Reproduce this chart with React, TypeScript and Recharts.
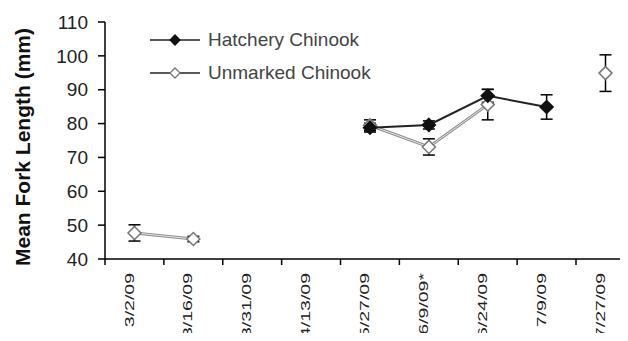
import { LineChart, Line, XAxis, YAxis, ErrorBar, Legend } from "recharts";

const dates = ["3/2/09", "3/16/09", "3/31/09", "4/13/09", "5/27/09", "6/9/09*", "6/24/09", "7/9/09", "7/27/09"];
const hatchery = [null, null, null, null, 78.8, 79.6, 88.2, 84.9, null];
const hatcheryErr = [null, null, null, null, 1.3, 1.2, 1.9, 3.6, null];
const unmarked = [47.7, 45.9, null, null, 79.5, 73.1, 85.6, null, 94.9];
const unmarkedErr = [2.4, 0.8, null, null, 1.6, 2.4, 4.5, null, 5.4];
const yTicks = [40, 50, 60, 70, 80, 90, 100, 110];

const data = dates.map((d, i) => ({
  date: d,
  hatchery: hatchery[i],
  hatcheryErr: hatcheryErr[i],
  unmarked: unmarked[i],
  unmarkedErr: unmarkedErr[i],
}));

const FONT = "'Liberation Sans', Arial, sans-serif";
const HALF = 29.5; // half a category step, for the boundary ticks

function diamond(fill: string, stroke: string, r: number) {
  return (props: any) => {
    const { cx, cy, index } = props;
    if (cx == null || cy == null || props.value == null) return <g key={index} />;
    return (
      <polygon
        key={index}
        points={`${cx},${cy - r} ${cx + r},${cy} ${cx},${cy + r} ${cx - r},${cy}`}
        fill={fill}
        stroke={stroke}
        strokeWidth={1.5}
      />
    );
  };
}

const XTick = (props: any) => {
  const { x, y, payload } = props;
  return (
    <g>
      <line x1={x - HALF} x2={x - HALF} y1={y} y2={y + 6} stroke="#000" strokeWidth={1.5} />
      <text
        transform={`translate(${x - 1},${y + 14}) rotate(-90) scale(1.5,1)`}
        textAnchor="end"
        fontSize={13}
        fontFamily={FONT}
        fill="#222"
      >
        {payload.value}
      </text>
    </g>
  );
};

const LEGEND = [
  { name: "Hatchery Chinook", fill: "#111", stroke: "#111" },
  { name: "Unmarked Chinook", fill: "#fff", stroke: "#777" },
];

const LegendBox = () => (
  <div style={{ display: "flex", flexDirection: "column", gap: 7 }}>
    {LEGEND.map((l) => (
      <div key={l.name} style={{ display: "flex", alignItems: "center", height: 26 }}>
        <svg width={60} height={16}>
          <line x1={2} x2={52} y1={8} y2={8} stroke="#222" strokeWidth={1.5} />
          <polygon points="27,3 32,8 27,13 22,8" fill={l.fill} stroke={l.stroke} strokeWidth={1.3} />
        </svg>
        <span style={{ fontFamily: FONT, fontSize: 19, color: "#444", whiteSpace: "nowrap" }}>{l.name}</span>
      </div>
    ))}
  </div>
);

export default function App() {
  return (
    <div style={{ margin: -8, width: 628, height: 341, overflow: "hidden", background: "#fff" }}>
      <LineChart width={640} height={341} data={data} margin={{ top: 22, right: 5, bottom: 0, left: 0 }}>
        <XAxis
          dataKey="date"
          height={82}
          interval={0}
          padding={{ left: HALF, right: HALF }}
          tickSize={0}
          tickMargin={0}
          tickLine={false}
          axisLine={{ stroke: "#000", strokeWidth: 1.5 }}
          tick={<XTick />}
        />
        <YAxis
          domain={[40, 110]}
          ticks={yTicks}
          width={105}
          tickSize={7}
          tickMargin={10}
          axisLine={{ stroke: "#000", strokeWidth: 1.5 }}
          tickLine={{ stroke: "#000", strokeWidth: 1.5 }}
          tick={{ fontSize: 19, fontFamily: FONT, fill: "#222" }}
          label={{
            content: () => (
              <text
                transform="translate(30,147) rotate(-90)"
                textAnchor="middle"
                fontSize={21}
                fontWeight="bold"
                fontFamily={FONT}
                fill="#111"
              >
                Mean Fork Length (mm)
              </text>
            ),
          }}
        />
        <Legend
          layout="vertical"
          align="center"
          verticalAlign="middle"
          content={<LegendBox />}
          wrapperStyle={{ top: 27, left: 148, width: 260 }}
        />
        <Line
          dataKey="unmarked"
          stroke="#8c8c8c"
          strokeWidth={3}
          dot={false}
          legendType="none"
          isAnimationActive={false}
        />
        <Line
          dataKey="unmarked"
          stroke="#fff"
          strokeWidth={0.8}
          dot={false}
          legendType="none"
          isAnimationActive={false}
        />
        <Line
          dataKey="unmarked"
          stroke="none"
          dot={diamond("#fff", "#777", 6.5)}
          legendType="none"
          isAnimationActive={false}
        >
          <ErrorBar dataKey="unmarkedErr" width={6} stroke="#000" strokeWidth={1.5} direction="y" />
        </Line>
        <Line
          dataKey="hatchery"
          stroke="#222"
          strokeWidth={2}
          dot={diamond("#111", "#111", 6.5)}
          legendType="none"
          isAnimationActive={false}
        >
          <ErrorBar dataKey="hatcheryErr" width={6} stroke="#000" strokeWidth={1.5} direction="y" />
        </Line>
      </LineChart>
    </div>
  );
}
